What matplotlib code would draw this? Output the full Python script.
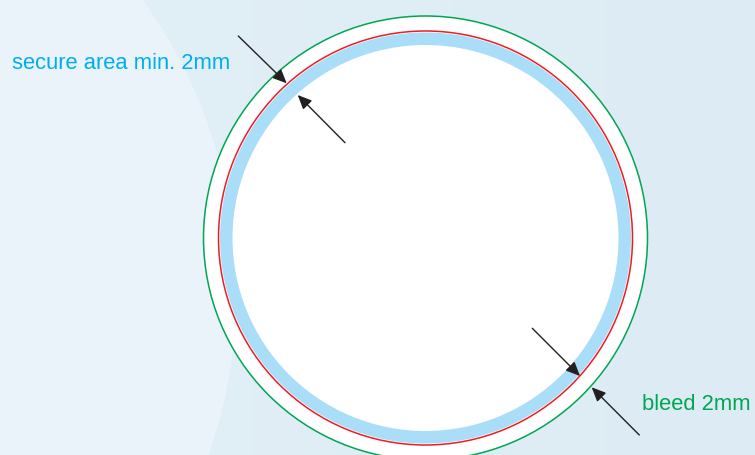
import numpy as np
import matplotlib
matplotlib.use("Agg")
import matplotlib.pyplot as plt
from matplotlib.patches import Circle, Wedge

# ---- diagram data (pixel space of a 755x455 canvas) ----
center = (425.5, 238.0)
bleed_radius = 222.0          # green cut/bleed line
trim_radius = 207.0           # red trim line
secure_outer = 205.5          # blue secure band outer edge
secure_inner = 193.0          # blue secure band inner edge
labels = ["secure area min. 2mm", "bleed 2mm"]
label_pos = [(11.5, 69.0), (642.5, 409.5)]
label_colors = ["#00AEEF", "#00A651"]
arrow_tails = [(238.3, 36.0), (345.0, 142.7), (532.3, 328.3), (639.3, 435.0)]
arrow_tips = [(286.7, 83.3), (297.7, 95.0), (580.0, 376.0), (591.7, 387.3)]

W, H = 755, 455
fig = plt.figure(figsize=(W / 100, H / 100), dpi=100)
ax = fig.add_axes([0, 0, 1, 1])
ax.set_xlim(0, W)
ax.set_ylim(H, 0)
ax.set_aspect("auto")
ax.axis("off")

# background: soft blue with a lighter big disc on the left
yy, xx = np.mgrid[0:H, 0:W]
base = np.array([0xDD, 0xEC, 0xF4]) / 255.0
light = np.array([0xEA, 0xF3, 0xF9]) / 255.0
mid = np.array([0xE2, 0xEF, 0xF6]) / 255.0
t = np.clip(xx / W, 0, 1)[..., None]
img = mid * (1 - t) + base * t
disc = ((xx + 261.0) ** 2 + (yy - 290.0) ** 2) < 497.0 ** 2
img[disc] = light
ax.imshow(img, extent=(0, W, H, 0), zorder=0, interpolation="bilinear")

# white disc inside bleed line
ax.add_patch(Circle(center, bleed_radius, facecolor="white", edgecolor="none", zorder=1))
# blue secure band
ax.add_patch(Wedge(center, secure_outer, 0, 360, width=secure_outer - secure_inner,
                   facecolor="#AADDF8", edgecolor="none", zorder=2))
# red trim line
ax.add_patch(Circle(center, trim_radius, facecolor="none", edgecolor="#ED1C24", lw=1.1, zorder=3))
# green bleed line
ax.add_patch(Circle(center, bleed_radius, facecolor="none", edgecolor="#00A651", lw=1.1, zorder=3))

# arrows
for tail, tip in zip(arrow_tails, arrow_tips):
    ax.annotate("", xy=tip, xytext=tail,
                arrowprops=dict(arrowstyle="-|>,head_length=0.85,head_width=0.38",
                                lw=1.0, color="#231F20", shrinkA=0, shrinkB=0),
                zorder=4)

# labels
for text, (x, y), c in zip(labels, label_pos, label_colors):
    ax.text(x, y, text, color=c, fontsize=15.8, family=["Liberation Sans", "DejaVu Sans"],
            ha="left", va="baseline", zorder=5)

fig.savefig("out.png", dpi=100)
